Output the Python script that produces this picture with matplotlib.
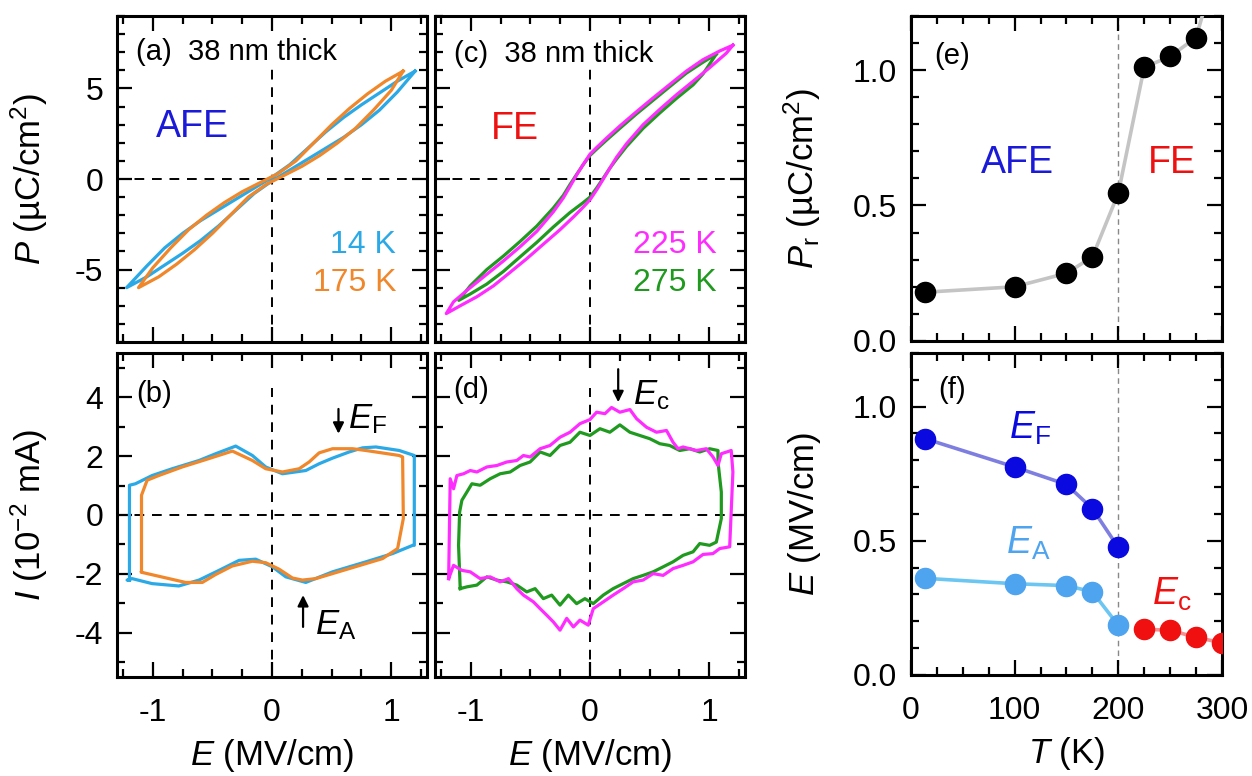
import matplotlib
matplotlib.use("Agg")
import matplotlib.pyplot as plt
from matplotlib.ticker import MultipleLocator

plt.rcParams['font.family'] = ['Liberation Sans', 'DejaVu Sans']
plt.rcParams['mathtext.fontset'] = 'custom'
plt.rcParams['mathtext.rm'] = 'Liberation Sans'
plt.rcParams['mathtext.it'] = 'Liberation Sans:italic'
plt.rcParams['axes.unicode_minus'] = False

# colours
C14, C175 = '#2aa9e6', '#f0872a'
C225, C275 = '#ff2cff', '#1f9a1f'

# ---- (a) P-E loops, AFE (14 K, 175 K) ----
pe14_E = [1.20, 1.05, 0.90, 0.75, 0.60, 0.45, 0.30, 0.15, 0.00, -0.15, -0.30, -0.45, -0.60, -0.75, -0.90, -1.05, -1.22,
          -1.05, -0.90, -0.75, -0.60, -0.45, -0.30, -0.15, 0.00, 0.15, 0.30, 0.45, 0.60, 0.75, 0.90, 1.05, 1.20]
pe14_P = [5.96, 5.40, 4.75, 4.10, 3.40, 2.60, 1.70, 0.80, 0.10, -0.50, -1.10, -1.70, -2.30, -3.00, -3.80, -4.80, -6.00,
          -5.40, -4.75, -4.10, -3.40, -2.60, -1.70, -0.80, -0.10, 0.50, 1.10, 1.70, 2.30, 3.00, 3.80, 4.80, 5.96]
pe175_E = [1.10, 0.95, 0.80, 0.65, 0.50, 0.35, 0.20, 0.05, -0.10, -0.25, -0.40, -0.55, -0.70, -0.85, -1.00, -1.12,
           -0.95, -0.80, -0.65, -0.50, -0.35, -0.20, -0.05, 0.10, 0.25, 0.40, 0.55, 0.70, 0.85, 1.00, 1.10]
pe175_P = [5.96, 5.40, 4.70, 3.90, 3.00, 2.00, 1.00, 0.30, -0.20, -0.70, -1.30, -2.00, -2.80, -3.80, -4.90, -6.00,
           -5.40, -4.70, -3.90, -3.00, -2.00, -1.00, -0.30, 0.20, 0.70, 1.30, 2.00, 2.80, 3.80, 4.90, 5.96]

# ---- (c) P-E loops, FE (225 K, 275 K) ----
pe225_E = [1.199, 1.088, 0.948, 0.809, 0.669, 0.530, 0.391, 0.251, 0.139, 0.056, 0.000, -0.056, -0.112, -0.167,
           -0.223, -0.307, -0.446, -0.586, -0.725, -0.865, -1.004, -1.144, -1.205,
           -1.088, -0.948, -0.809, -0.669, -0.530, -0.391, -0.251, -0.139, -0.056, 0.000, 0.056, 0.112, 0.167,
           0.223, 0.307, 0.446, 0.586, 0.725, 0.865, 1.004, 1.144, 1.199]
pe225_P = [7.39, 7.07, 6.59, 5.96, 5.22, 4.48, 3.72, 2.93, 2.26, 1.74, 1.37, 0.81, 0.22, -0.41,
           -1.04, -1.81, -2.89, -3.74, -4.52, -5.26, -6.00, -6.78, -7.43,
           -7.00, -6.50, -5.90, -5.15, -4.40, -3.60, -2.80, -2.10, -1.55, -1.15, -0.60, 0.00, 0.60,
           1.20, 1.95, 3.00, 3.85, 4.65, 5.40, 6.15, 6.95, 7.39]
pe275_E = [1.060, 0.948, 0.809, 0.669, 0.530, 0.391, 0.251, 0.139, 0.056, 0.000, -0.056, -0.112, -0.167, -0.223,
           -0.307, -0.446, -0.586, -0.725, -0.865, -1.004, -1.100,
           -1.004, -0.865, -0.725, -0.586, -0.446, -0.307, -0.167, -0.056, 0.000, 0.056, 0.112, 0.167, 0.223,
           0.307, 0.446, 0.586, 0.725, 0.865, 0.948, 1.060]
pe275_P = [6.90, 6.45, 5.85, 5.10, 4.35, 3.60, 2.80, 2.15, 1.65, 1.30, 0.80, 0.25, -0.30, -0.90,
           -1.60, -2.60, -3.45, -4.25, -5.00, -5.90, -6.70,
           -6.35, -5.80, -5.10, -4.30, -3.50, -2.65, -1.85, -1.30, -1.00, -0.50, 0.05, 0.60, 1.10,
           1.80, 2.80, 3.65, 4.45, 5.20, 5.80, 6.90]

# ---- (b) I-E loops, AFE ----
ie14_E = [-1.196, -1.196, -1.146, -1.006, -0.838, -0.613, -0.473, -0.305, -0.165, -0.053, 0.087, 0.283, 0.395, 0.507,
          0.647, 0.759, 0.871, 1.067, 1.193, 1.193, 1.180, 1.011, 0.787, 0.507, 0.283, 0.115, 0.003, -0.137, -0.277,
          -0.445, -0.613, -0.782, -1.006, -1.174, -1.216, -1.196]
ie14_I = [-2.21, 1.01, 1.06, 1.34, 1.57, 1.85, 2.08, 2.34, 2.02, 1.63, 1.40, 1.51, 1.74, 1.93,
          2.14, 2.28, 2.31, 2.19, 2.02, -1.03, -1.03, -1.31, -1.59, -1.93, -2.29, -2.10, -1.76, -1.50, -1.54,
          -1.88, -2.21, -2.41, -2.33, -2.16, -2.21, -2.21]
ie175_E = [-1.095, -1.095, -1.048, -0.950, -0.754, -0.557, -0.333, -0.165, -0.053, 0.087, 0.227, 0.311, 0.395, 0.507,
           0.675, 0.787, 1.067, 1.095, 1.101, 1.053, 0.927, 0.647, 0.367, 0.255, 0.171, 0.059, -0.053, -0.165,
           -0.333, -0.473, -0.585, -0.725, -1.090, -1.095]
ie175_I = [-1.93, 0.67, 1.18, 1.34, 1.63, 1.88, 2.17, 1.85, 1.57, 1.46, 1.57, 1.80, 2.11, 2.25,
           2.25, 2.19, 2.02, 1.97, -0.12, -1.14, -1.48, -1.82, -2.16, -2.21, -2.14, -1.84, -1.62, -1.57,
           -1.73, -2.02, -2.29, -2.29, -1.95, -1.93]

# ---- (d) I-E loops, FE (noisy) ----
ie225_E = [-1.185, -1.172, -1.144, -1.116, -1.060, -1.004, -0.948, -0.865, -0.781, -0.697, -0.614, -0.558, -0.502,
           -0.418, -0.335, -0.251, -0.167, -0.084, 0.000, 0.056, 0.126, 0.181, 0.251, 0.335, 0.391, 0.474, 0.558,
           0.642, 0.697, 0.739, 0.781, 0.893, 0.976, 1.032, 1.074, 1.102, 1.185, 1.199, 1.172,
           1.088, 1.032, 0.948, 0.865, 0.781, 0.697, 0.614, 0.530, 0.446, 0.363, 0.279, 0.195, 0.112, 0.028,
           -0.014, -0.084, -0.139, -0.195, -0.251, -0.307, -0.363, -0.418, -0.474, -0.558, -0.614, -0.683,
           -0.753, -0.837, -0.921, -1.004, -1.074, -1.144, -1.185]
ie225_I = [-2.16, 1.23, 0.89, 1.34, 1.40, 1.51, 1.46, 1.63, 1.68, 1.80, 1.85, 2.02, 1.97,
           2.25, 2.36, 2.64, 2.81, 3.10, 3.24, 3.49, 3.44, 3.65, 3.49, 3.58, 3.27, 2.98, 2.81,
           2.87, 2.47, 2.25, 2.31, 2.19, 2.25, 1.97, 1.68, 2.08, 2.19, 1.46, -1.08,
           -1.14, -1.31, -1.34, -1.59, -1.71, -1.82, -2.05, -1.99, -2.21, -2.27, -2.50, -2.72, -2.95, -3.18,
           -3.74, -3.57, -3.80, -3.51, -3.91, -3.63, -3.40, -3.18, -2.95, -2.72, -2.50, -2.16,
           -2.27, -2.10, -2.16, -1.93, -1.88, -1.71, -2.16]
ie275_E = [-1.088, -1.102, -1.093, -1.074, -1.032, -0.990, -0.921, -0.837, -0.753, -0.669, -0.586, -0.502, -0.418,
           -0.335, -0.251, -0.167, -0.084, 0.000, 0.084, 0.167, 0.251, 0.335, 0.418, 0.502, 0.586, 0.669, 0.753,
           0.837, 0.921, 1.004, 1.074, 1.074, 1.102, 1.102, 1.060,
           1.004, 0.921, 0.865, 0.781, 0.697, 0.614, 0.530, 0.446, 0.363, 0.279, 0.195, 0.112, 0.028, -0.042,
           -0.112, -0.181, -0.251, -0.321, -0.391, -0.460, -0.530, -0.614, -0.697, -0.781, -0.865, -0.948,
           -1.032, -1.088]
ie275_I = [-2.50, -1.03, 0.10, 0.50, 0.78, 1.06, 1.01, 1.23, 1.40, 1.46, 1.68, 1.80, 2.14,
           2.02, 2.36, 2.47, 2.81, 2.70, 2.93, 2.81, 3.06, 2.81, 2.70, 2.59, 2.42, 2.36, 2.19,
           2.25, 2.14, 2.25, 2.19, 1.80, 0.78, -0.12, -0.92,
           -1.03, -0.97, -1.25, -1.37, -1.59, -1.76, -1.93, -2.05, -2.16, -2.33, -2.50, -2.72, -3.01, -2.84,
           -3.01, -2.72, -3.06, -2.72, -2.84, -2.50, -2.61, -2.38, -2.27, -2.21, -2.10, -2.38,
           -2.44, -2.50]

# ---- (e) remanent polarisation vs T ----
T_pr = [14, 100, 150, 175, 200, 225, 250, 275, 300]
Pr = [0.18, 0.20, 0.25, 0.31, 0.545, 1.01, 1.05, 1.12, 1.45]

# ---- (f) switching fields vs T ----
T_afe = [14, 100, 150, 175, 200]
E_F = [0.88, 0.775, 0.71, 0.62, 0.475]
E_A = [0.36, 0.34, 0.333, 0.31, 0.185]
T_fe = [225, 250, 275, 300]
E_c = [0.17, 0.167, 0.14, 0.12]

TICK_FS = 23
LABEL_FS = 25


def style_axis(ax, xmaj, xmin, ymaj, ymin):
    ax.xaxis.set_major_locator(MultipleLocator(xmaj))
    ax.xaxis.set_minor_locator(MultipleLocator(xmin))
    ax.yaxis.set_major_locator(MultipleLocator(ymaj))
    ax.yaxis.set_minor_locator(MultipleLocator(ymin))
    ax.tick_params(which='both', direction='in', top=True, right=True, width=1.6, labelsize=TICK_FS)
    ax.tick_params(axis='x', which='major', pad=15)
    ax.tick_params(axis='y', which='major', pad=10)
    ax.tick_params(which='major', length=11)
    ax.tick_params(which='minor', length=6)
    for s in ax.spines.values():
        s.set_linewidth(2.2)


def zero_lines(ax, ytop):
    ax.axhline(0, color='k', lw=1.4, ls=(0, (5, 4)), zorder=1)
    ax.plot([0, 0], [ax.get_ylim()[0], ytop], color='k', lw=1.4, ls=(0, (5, 4)), zorder=1)


fig = plt.figure(figsize=(12.52, 7.76), dpi=100)
ax_a = fig.add_axes([0.0935, 0.5593, 0.2476, 0.420])
ax_b = fig.add_axes([0.0935, 0.1276, 0.2476, 0.4175])
ax_c = fig.add_axes([0.3474, 0.5593, 0.2476, 0.420])
ax_d = fig.add_axes([0.3474, 0.1276, 0.2476, 0.4175])
ax_e = fig.add_axes([0.7276, 0.5606, 0.2484, 0.419])
ax_f = fig.add_axes([0.7276, 0.1302, 0.2484, 0.4150])

lw = 2.3
# (a)
ax_a.set_xlim(-1.3, 1.3)
ax_a.set_ylim(-9, 9)
zero_lines(ax_a, 6.1)
ax_a.plot(pe14_E, pe14_P, color=C14, lw=lw)
ax_a.plot(pe175_E, pe175_P, color=C175, lw=lw)
style_axis(ax_a, 1, 0.25, 5, 1)
ax_a.tick_params(labelbottom=False)
ax_a.set_ylabel(r'$P$ (µC/cm$^2$)', fontsize=LABEL_FS)
ax_a.yaxis.set_label_coords(-0.216, 0.5)
ax_a.text(-1.14, 7.0, '(a)  38 nm thick', fontsize=21, va='center')
ax_a.text(-0.67, 2.9, 'AFE', fontsize=27, color='#1a1ad8', ha='center', va='center')
ax_a.text(1.04, -3.63, '14 K', fontsize=23, color=C14, ha='right', va='center')
ax_a.text(1.04, -5.76, '175 K', fontsize=23, color=C175, ha='right', va='center')

# (c)
ax_c.set_xlim(-1.3, 1.3)
ax_c.set_ylim(-9, 9)
zero_lines(ax_c, 6.1)
ax_c.plot(pe275_E, pe275_P, color=C275, lw=lw)
ax_c.plot(pe225_E, pe225_P, color=C225, lw=lw)
style_axis(ax_c, 1, 0.25, 5, 1)
ax_c.tick_params(labelbottom=False, labelleft=False)
ax_c.text(-1.14, 6.9, '(c)  38 nm thick', fontsize=21, va='center')
ax_c.text(-0.63, 2.76, 'FE', fontsize=27, color='#ee1111', ha='center', va='center')
ax_c.text(1.06, -3.63, '225 K', fontsize=23, color=C225, ha='right', va='center')
ax_c.text(1.06, -5.76, '275 K', fontsize=23, color=C275, ha='right', va='center')

# (b)
ax_b.set_xlim(-1.3, 1.3)
ax_b.set_ylim(-5.5, 5.5)
zero_lines(ax_b, 4.3)
ax_b.plot(ie14_E, ie14_I, color=C14, lw=lw)
ax_b.plot(ie175_E, ie175_I, color=C175, lw=lw)
style_axis(ax_b, 1, 0.25, 2, 1)
ax_b.set_ylabel(r'$I$ (10$^{-2}$ mA)', fontsize=LABEL_FS)
ax_b.yaxis.set_label_coords(-0.216, 0.5)
ax_b.set_xlabel(r'$E$ (MV/cm)', fontsize=LABEL_FS)
ax_b.xaxis.set_label_coords(0.5, -0.185)
ax_b.text(-1.14, 4.11, '(b)', fontsize=21, va='center')
arrow = dict(arrowstyle='-|>', color='k', lw=1.6, mutation_scale=16, shrinkA=0, shrinkB=0)
ax_b.annotate('', xy=(0.557, 2.76), xytext=(0.557, 3.6), arrowprops=arrow)
ax_b.text(0.64, 3.27, r'$E_\mathrm{F}$', fontsize=25, va='center')
ax_b.annotate('', xy=(0.26, -2.72), xytext=(0.26, -3.8), arrowprops=arrow)
ax_b.text(0.36, -3.74, r'$E_\mathrm{A}$', fontsize=25, va='center')

# (d)
ax_d.set_xlim(-1.3, 1.3)
ax_d.set_ylim(-5.5, 5.5)
zero_lines(ax_d, 4.3)
ax_d.plot(ie275_E, ie275_I, color=C275, lw=lw)
ax_d.plot(ie225_E, ie225_I, color=C225, lw=lw)
style_axis(ax_d, 1, 0.25, 2, 1)
ax_d.tick_params(labelleft=False)
ax_d.set_xlabel(r'$E$ (MV/cm)', fontsize=LABEL_FS)
ax_d.xaxis.set_label_coords(0.5, -0.185)
ax_d.text(-1.15, 4.23, '(d)', fontsize=21, va='center')
ax_d.annotate('', xy=(0.237, 3.83), xytext=(0.237, 4.95), arrowprops=arrow)
ax_d.text(0.36, 4.06, r'$E_\mathrm{c}$', fontsize=25, va='center')

# (e)
ax_e.set_xlim(0, 300)
ax_e.set_ylim(0, 1.2)
ax_e.axvline(200, color='#888888', lw=1.0, ls=(0, (4, 3)), zorder=1)
ax_e.plot(T_pr, Pr, color='#c4c4c4', lw=2.6, marker='o', ms=14.5, mfc='k', mec='k', zorder=3)
style_axis(ax_e, 100, 25, 0.5, 0.1)
ax_e.tick_params(labelbottom=False)
ax_e.yaxis.set_major_formatter(plt.FormatStrFormatter('%.1f'))
ax_e.set_ylabel(r'$P_\mathrm{r}$ (µC/cm$^2$)', fontsize=LABEL_FS)
ax_e.yaxis.set_label_coords(-0.283, 0.5)
ax_e.text(22, 1.05, '(e)', fontsize=21, va='center')
ax_e.text(103, 0.655, 'AFE', fontsize=27, color='#1a1ad8', ha='center', va='center')
ax_e.text(252, 0.655, 'FE', fontsize=27, color='#ee1111', ha='center', va='center')

# (f)
ax_f.set_xlim(0, 300)
ax_f.set_ylim(0, 1.2)
ax_f.axvline(200, color='#888888', lw=1.0, ls=(0, (4, 3)), zorder=1)
ax_f.plot(T_afe, E_F, color='#7e7ee0', lw=2.6, marker='o', ms=14.5, mfc='#0a0ae0', mec='#0a0ae0', zorder=3)
ax_f.plot(T_afe, E_A, color='#6cc6f2', lw=2.6, marker='o', ms=14.5, mfc='#4ea4ef', mec='#4ea4ef', zorder=3)
ax_f.plot(T_fe, E_c, color='#f59090', lw=2.6, marker='o', ms=14.5, mfc='#f01010', mec='#f01010', zorder=3)
style_axis(ax_f, 100, 25, 0.5, 0.1)
ax_f.yaxis.set_major_formatter(plt.FormatStrFormatter('%.1f'))
ax_f.set_ylabel(r'$E$ (MV/cm)', fontsize=LABEL_FS)
ax_f.yaxis.set_label_coords(-0.283, 0.5)
ax_f.set_xlabel(r'$T$ (K)', fontsize=LABEL_FS)
ax_f.xaxis.set_label_coords(0.5, -0.187)
ax_f.text(26, 1.06, '(f)', fontsize=21, va='center')
ax_f.text(115, 0.92, r'$E_\mathrm{F}$', fontsize=27, color='#0a0ae0', ha='center', va='center')
ax_f.text(113, 0.49, r'$E_\mathrm{A}$', fontsize=27, color='#4ea4ef', ha='center', va='center')
ax_f.text(252, 0.30, r'$E_\mathrm{c}$', fontsize=27, color='#f01010', ha='center', va='center')

fig.savefig('out.png', dpi=100)
